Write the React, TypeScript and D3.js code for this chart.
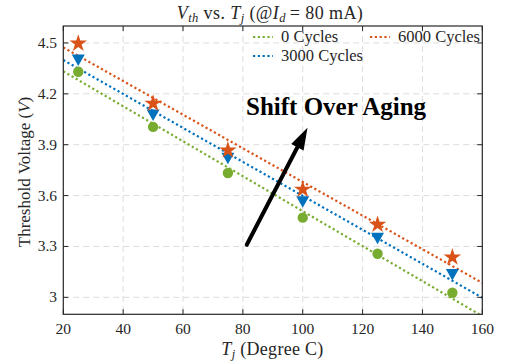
import React from "react";
import * as d3 from "d3";

const temps = [25, 50, 75, 100, 125, 150];
const cycles0 = [4.33, 4.005, 3.733, 3.47, 3.257, 3.027];
const cycles3000 = [4.4, 4.075, 3.82, 3.564, 3.348, 3.135];
const cycles6000 = [4.5, 4.146, 3.87, 3.639, 3.432, 3.239];
const xTicks = [20, 40, 60, 80, 100, 120, 140, 160];
const yTicks = [3, 3.3, 3.6, 3.9, 4.2, 4.5];
const xDomain = [20, 160];
const yDomain = [2.9, 4.6];
const arrowFrom = [81.3, 3.31];
const arrowTo = [101.6, 4.0];

const W = 506;
const H = 362;
const M = { left: 63.3, right: 482.3, top: 26, bottom: 314.3 };
const FONT = "'Liberation Serif', 'Times New Roman', serif";

const GREEN = "#77AC30";
const BLUE = "#0072BD";
const ORANGE = "#D95319";

type Series = { name: string; values: number[]; color: string; marker: "circle" | "triangle" | "star" };
const series: Series[] = [
  { name: "0 Cycles", values: cycles0, color: GREEN, marker: "circle" },
  { name: "3000 Cycles", values: cycles3000, color: BLUE, marker: "triangle" },
  { name: "6000 Cycles", values: cycles6000, color: ORANGE, marker: "star" },
];

// least-squares line through each series
function fit(xs: number[], ys: number[]) {
  const mx = d3.mean(xs)!;
  const my = d3.mean(ys)!;
  let sxy = 0;
  let sxx = 0;
  xs.forEach((x, i) => {
    sxy += (x - mx) * (ys[i] - my);
    sxx += (x - mx) * (x - mx);
  });
  const slope = sxy / sxx;
  return (x: number) => my + slope * (x - mx);
}

export default function App() {
  const x = d3.scaleLinear().domain(xDomain).range([M.left, M.right]);
  const y = d3.scaleLinear().domain(yDomain).range([M.bottom, M.top]);

  const starPath = d3.symbol().type(d3.symbolStar).size(95)()!;
  const triPath = "M-6.5,-5.5 L6.5,-5.5 L0,6 Z";

  const clipId = "plotclip";

  const marker = (s: Series, cx: number, cy: number, key: string) => {
    if (s.marker === "circle")
      return <circle key={key} cx={cx} cy={cy} r={5.2} fill={s.color} />;
    if (s.marker === "triangle")
      return <path key={key} d={triPath} transform={`translate(${cx},${cy})`} fill={s.color} />;
    return <path key={key} d={starPath} transform={`translate(${cx},${cy + 0.5})`} fill={s.color} />;
  };

  const ang = Math.atan2(y(arrowTo[1]) - y(arrowFrom[1]), x(arrowTo[0]) - x(arrowFrom[0]));
  const tipX = x(arrowTo[0]);
  const tipY = y(arrowTo[1]);
  const headLen = 22;
  const headHalf = 7;
  const bx = tipX - headLen * Math.cos(ang);
  const by = tipY - headLen * Math.sin(ang);
  const px = -Math.sin(ang);
  const py = Math.cos(ang);

  const legend = [
    { s: series[0], lx: 253, ly: 37 },
    { s: series[2], lx: 370, ly: 37 },
    { s: series[1], lx: 253, ly: 56 },
  ];

  return (
    <svg width={W} height={H} style={{ position: "absolute", left: 0, top: 0, background: "#fff" }} fontFamily={FONT}>
      <defs>
        <clipPath id={clipId}>
          <rect x={M.left} y={M.top} width={M.right - M.left} height={M.bottom - M.top} />
        </clipPath>
      </defs>
      <rect x={0} y={0} width={W} height={H} fill="#fff" />

      {/* grid */}
      {xTicks.slice(1, -1).map((t) => (
        <line key={`gx${t}`} x1={x(t)} x2={x(t)} y1={M.top} y2={M.bottom} stroke="#dcdcdc" strokeWidth={1} strokeDasharray="6 4" />
      ))}
      {yTicks.map((t) => (
        <line key={`gy${t}`} x1={M.left} x2={M.right} y1={y(t)} y2={y(t)} stroke="#dcdcdc" strokeWidth={1} strokeDasharray="6 4" />
      ))}

      {/* fitted trend lines */}
      <g clipPath={`url(#${clipId})`}>
        {series.map((s) => {
          const f = fit(temps, s.values);
          return (
            <line
              key={`fit${s.name}`}
              x1={x(xDomain[0])}
              y1={y(f(xDomain[0]))}
              x2={x(xDomain[1])}
              y2={y(f(xDomain[1]))}
              stroke={s.color}
              strokeWidth={2.2}
              strokeDasharray="2.2 2.6"
            />
          );
        })}
      </g>

      {/* measured points */}
      {series.map((s) => temps.map((t, i) => marker(s, x(t), y(s.values[i]), `${s.name}${t}`)))}

      {/* axes box and ticks */}
      <rect x={M.left} y={M.top} width={M.right - M.left} height={M.bottom - M.top} fill="none" stroke="#262626" strokeWidth={1.2} />
      {xTicks.map((t) => (
        <g key={`xt${t}`}>
          <line x1={x(t)} x2={x(t)} y1={M.bottom} y2={M.bottom - 5} stroke="#262626" />
          <line x1={x(t)} x2={x(t)} y1={M.top} y2={M.top + 5} stroke="#262626" />
          <text x={x(t)} y={333.5} textAnchor="middle" fontSize={15.5} fill="#262626">{t}</text>
        </g>
      ))}
      {yTicks.map((t) => (
        <g key={`yt${t}`}>
          <line x1={M.left} x2={M.left + 5} y1={y(t)} y2={y(t)} stroke="#262626" />
          <line x1={M.right} x2={M.right - 5} y1={y(t)} y2={y(t)} stroke="#262626" />
          <text x={57} y={y(t) + 5} textAnchor="end" fontSize={15.5} fill="#262626">{d3.format("")(t)}</text>
        </g>
      ))}

      {/* title */}
      <text x={270} y={19} textAnchor="middle" fontSize={18} fill="#262626" letterSpacing={0.4}>
        <tspan fontStyle="italic">V</tspan>
        <tspan fontStyle="italic" fontSize={12.5} dy={3}>th</tspan>
        <tspan dy={-3}> vs. </tspan>
        <tspan fontStyle="italic">T</tspan>
        <tspan fontStyle="italic" fontSize={12.5} dy={3}>j</tspan>
        <tspan dy={-3}> (@</tspan>
        <tspan fontStyle="italic">I</tspan>
        <tspan fontStyle="italic" fontSize={12.5} dy={3}>d</tspan>
        <tspan dy={-3}>{"\u2009= 80 mA)"}</tspan>
      </text>

      {/* axis labels */}
      <text x={272.5} y={355} textAnchor="middle" fontSize={18} fill="#262626" letterSpacing={0.3}>
        <tspan fontStyle="italic">T</tspan>
        <tspan fontStyle="italic" fontSize={12.5} dy={3}>j</tspan>
        <tspan dy={-3}> (Degree C)</tspan>
      </text>
      <text transform="translate(30,172) rotate(-90)" textAnchor="middle" fontSize={17} fill="#262626">
        Threshold Voltage (<tspan fontStyle="italic">V</tspan>)
      </text>

      {/* legend */}
      {legend.map(({ s, lx, ly }) => (
        <g key={`lg${s.name}`}>
          <line x1={lx} x2={lx + 20} y1={ly} y2={ly} stroke={s.color} strokeWidth={2.2} strokeDasharray="2.2 2.6" />
          <text x={lx + 28} y={ly + 5} fontSize={16.5} fill="#262626">{s.name}</text>
        </g>
      ))}

      {/* annotation */}
      <text x={246} y={115} fontSize={25} fontWeight="bold" fill="#000">Shift Over Aging</text>
      <line x1={x(arrowFrom[0])} y1={y(arrowFrom[1])} x2={bx} y2={by} stroke="#000" strokeWidth={4} strokeLinecap="round" />
      <path
        d={`M${tipX},${tipY} L${bx + px * headHalf},${by + py * headHalf} L${bx - px * headHalf},${by - py * headHalf} Z`}
        fill="#000"
      />
    </svg>
  );
}
